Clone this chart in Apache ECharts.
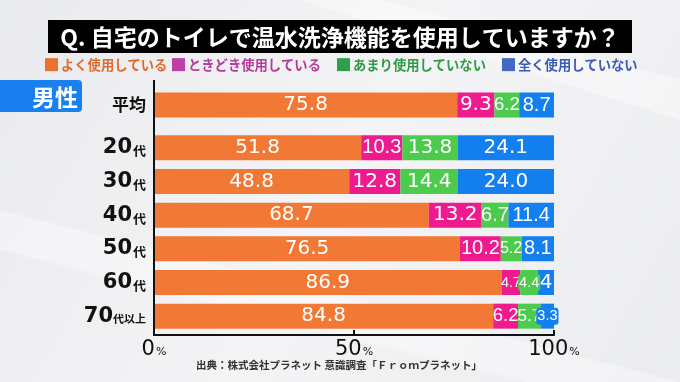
<!DOCTYPE html>
<html><head><meta charset="utf-8">
<script src="https://cdn.jsdelivr.net/npm/echarts@6/dist/echarts.min.js"></script>
<style>html,body{margin:0;padding:0;}#c{width:680px;height:382px;}</style>
</head><body><div id="c"></div>
<script>
// ---- data ----
const seriesNames = ['よく使用している', 'ときどき使用している', 'あまり使用していない', '全く使用していない'];
const avgCategory = ['平均'];
const ageCategories = ['20代', '30代', '40代', '50代', '60代', '70代以上'];
// values as shown in the picture (strings keep the printed format)
const avgOften = ['75.8'];
const avgSometimes = ['9.3'];
const avgRarely = ['6.2'];
const avgNever = ['8.7'];
const ageOften = ['51.8', '48.8', '68.7', '76.5', '86.9', '84.8'];
const ageSometimes = ['10.3', '12.8', '13.2', '10.2', '4.7', '6.2'];
const ageRarely = ['13.8', '14.4', '6.7', '5.2', '4.4', '5.7'];
const ageNever = ['24.1', '24.0', '11.4', '8.1', '4', '3.3'];
const xTicks = [0, 50, 100];
const titleText = 'Q. 自宅のトイレで温水洗浄機能を使用していますか？';
const groupLabel = '男性';
const sourceText = '出典：株式会社プラネット 意識調査「Ｆｒｏｍプラネット」';

// ---- styles ----
const barColors = ['#F27935', '#EE1A8E', '#4DCB4D', '#1480F0'];
const legendIconColors = ['#E8732F', '#BE3FA5', '#2EA04A', '#4468C4'];
const legendTextColors = ['#E06A2A', '#B5399B', '#2F9A46', '#3A5BB5'];
const legendLefts = [45, 172, 337, 502];
const PX_PER_PCT = 4;

const mctx = document.createElement('canvas').getContext('2d');
function tw(text, font) { mctx.font = font; return mctx.measureText(text).width; }
const narrowAvail = tw('0123456789', '20px "Liberation Sans Narrow", monospace') !== tw('0123456789', '20px monospace');
const narrowFamily = narrowAvail ? 'Liberation Sans Narrow' : 'Liberation Sans';

function makeItem(s, color) {
  const v = Number(s);
  const w = v * PX_PER_PCT;
  let label;
  const wideW = tw(s, '20px "DejaVu Sans"');
  if (wideW <= w - 3) {
    label = { fontFamily: 'DejaVu Sans', fontSize: 20 };
  } else {
    const per = tw(s, '20px "' + narrowFamily + '"') / 20;
    let fs = Math.min(20, (w + 1) / per);
    fs = Math.max(14.5, fs);
    label = { fontFamily: narrowFamily, fontSize: fs };
    if (fs * per > w + 2) {
      label.backgroundColor = color;
      label.borderRadius = 3;
      label.padding = [1, 1];
    }
  }
  return { value: v, text: s, label: label };
}

function buildSeries(arrs, gridIdx, stack) {
  return arrs.map((arr, i) => ({
    name: seriesNames[i],
    type: 'bar',
    stack: stack,
    xAxisIndex: gridIdx,
    yAxisIndex: gridIdx,
    barWidth: 25,
    itemStyle: { color: barColors[i] },
    label: {
      show: true,
      position: 'inside',
      color: '#fff',
      formatter: p => p.data.text
    },
    emphasis: { disabled: true },
    data: arr.map(s => makeItem(s, barColors[i]))
  }));
}

const yLabelFormatter = v => {
  const m = v.match(/^(\d+)(.*)$/);
  if (!m) return '{k|' + v + '}';
  return '{n|' + m[1] + '}' + (m[2].length > 1 ? '{t|' + m[2] + '}' : '{s|' + m[2] + '}');
};
const yRich = {
  k: { fontFamily: 'Noto Sans CJK JP', fontWeight: 'bold', fontSize: 17, color: '#111' },
  n: { fontFamily: 'DejaVu Sans', fontWeight: 'bold', fontSize: 21, color: '#111' },
  s: { fontFamily: 'Noto Sans CJK JP', fontWeight: 'bold', fontSize: 13, color: '#111', padding: [5, 0, 0, 1] },
  t: { fontFamily: 'Noto Sans CJK JP', fontWeight: 'bold', fontSize: 11, color: '#111', padding: [6, 0, 0, 0] }
};

const chart = echarts.init(document.getElementById('c'), null, { renderer: 'canvas' });
chart.setOption({
  animation: false,
  backgroundColor: {
    type: 'linear', x: 0, y: 0, x2: 1, y2: 1,
    colorStops: [{ offset: 0, color: '#e9eaed' }, { offset: 0.5, color: '#f4f4f6' }, { offset: 1, color: '#ebecef' }]
  },
  graphic: [
    { type: 'polygon', shape: { points: [[0, 250], [680, 420], [680, 382], [0, 210]] }, style: { fill: 'rgba(255,255,255,0.35)' }, silent: true, z: -1 },
    { type: 'polygon', shape: { points: [[300, 0], [680, 120], [680, 80], [380, 0]] }, style: { fill: 'rgba(255,255,255,0.4)' }, silent: true, z: -1 },
    { type: 'rect', shape: { x: 48, y: 20, width: 584, height: 33 }, style: { fill: '#000' } },
    { type: 'text', x: 340, y: 37, style: { text: titleText, fill: '#fff', font: 'bold 23px "Noto Sans CJK JP"', textAlign: 'center', textVerticalAlign: 'middle' } },
    { type: 'rect', shape: { x: -6, y: 80, width: 88, height: 32, r: 4 }, style: { fill: '#1A7FEF' } },
    { type: 'text', x: 78, y: 97, style: { text: groupLabel, fill: '#fff', font: 'bold 23px "Noto Sans CJK JP"', textAlign: 'right', textVerticalAlign: 'middle' } },
    { type: 'line', shape: { x1: 154, y1: 80, x2: 154, y2: 336 }, style: { stroke: '#111', lineWidth: 2 }, z: 10 },
    { type: 'text', x: 339, y: 365, style: { text: sourceText, fill: '#333', font: 'bold 10.5px "Noto Sans CJK JP"', textAlign: 'center', textVerticalAlign: 'middle' } }
  ],
  legend: seriesNames.map((n, i) => ({
    data: [{ name: n, icon: 'rect', itemStyle: { color: legendIconColors[i] }, textStyle: { color: legendTextColors[i] } }],
    left: legendLefts[i], top: 58, padding: 0,
    itemWidth: 13, itemHeight: 13, selectedMode: false,
    textStyle: { fontFamily: 'Noto Sans CJK JP', fontWeight: 'bold', fontSize: 13.3, padding: [0, 0, 0, -2] }
  })),
  grid: [
    { left: 154, right: 126, top: 88, height: 34 },
    { left: 154, right: 126, top: 131, height: 202 }
  ],
  xAxis: [
    { gridIndex: 0, type: 'value', min: 0, max: 100, interval: 50, show: false },
    {
      gridIndex: 1, type: 'value', min: xTicks[0], max: xTicks[xTicks.length - 1], interval: 50, offset: 2,
      splitLine: { show: false },
      axisLine: { show: true, lineStyle: { color: '#111', width: 2 } },
      axisTick: { show: true, inside: true, length: 5, lineStyle: { color: '#111', width: 2 } },
      axisLabel: {
        margin: 4,
        formatter: v => '{n|' + v + '}{p|%}',
        rich: {
          n: { fontFamily: 'DejaVu Sans', fontSize: 21, color: '#111' },
          p: { fontFamily: 'DejaVu Sans', fontSize: 11, color: '#111', padding: [6, 0, 0, 1] }
        }
      }
    }
  ],
  yAxis: [
    { gridIndex: 0, type: 'category', inverse: true, data: avgCategory, axisLine: { show: false }, axisTick: { show: false },
      axisLabel: { margin: 8, formatter: yLabelFormatter, rich: yRich } },
    { gridIndex: 1, type: 'category', inverse: true, data: ageCategories, axisLine: { show: false }, axisTick: { show: false },
      axisLabel: { margin: 8, formatter: yLabelFormatter, rich: yRich } }
  ],
  series: [
    ...buildSeries([avgOften, avgSometimes, avgRarely, avgNever], 0, 'avg'),
    ...buildSeries([ageOften, ageSometimes, ageRarely, ageNever], 1, 'age')
  ]
});
</script></body></html>
